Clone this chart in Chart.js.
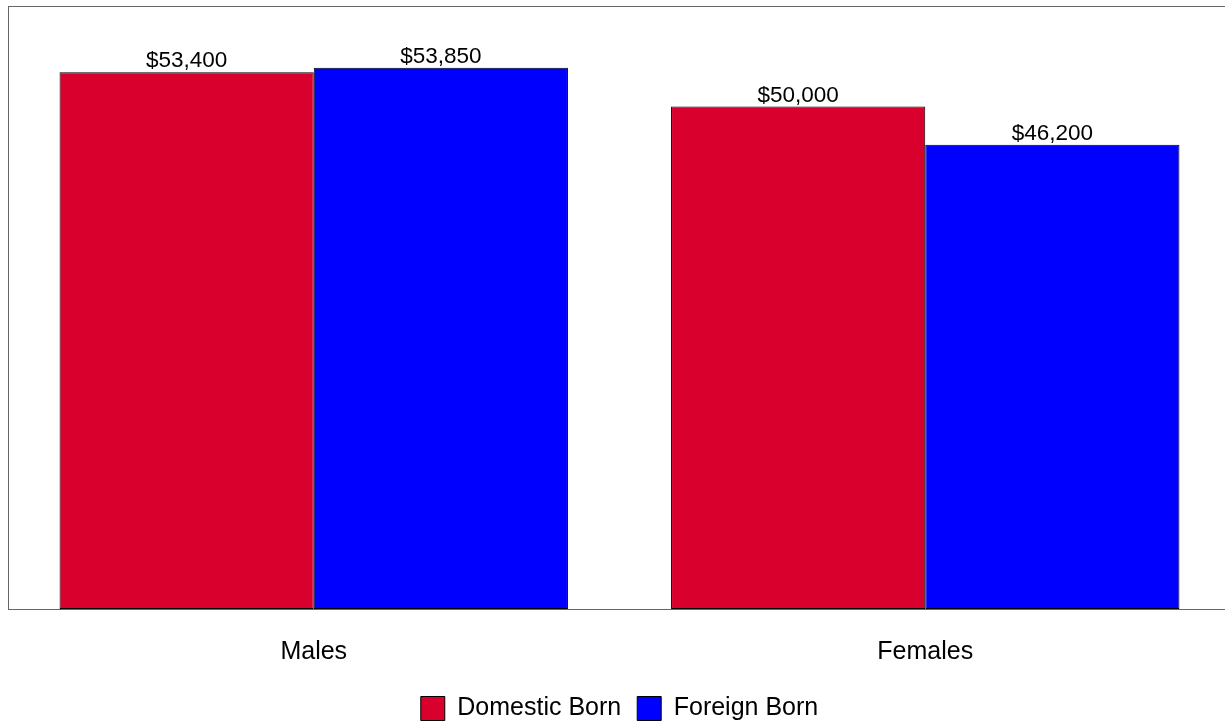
<!DOCTYPE html>
<html>
<head>
<meta charset="utf-8">
<script src="https://cdn.jsdelivr.net/npm/chart.js@4"></script>
<style>
  html, body { margin: 0; padding: 0; background: #fff; overflow: hidden; }
  #wrap { width: 1231px; height: 725px; }
</style>
</head>
<body>
<div id="wrap"><canvas id="myChart"></canvas></div>
<script>
// ....... data ........
const categories = ['Males', 'Females'];
const domesticBorn = [53400, 50000];
const foreignBorn = [53850, 46200];
const seriesNames = ['Domestic Born', 'Foreign Born'];

const police = '"Liberation Sans", Arial, sans-serif';

// ....... frame around the plot .......
const frame = {
    id: 'frame',
    beforeDatasetsDraw(chart) {
        const a = chart.chartArea;
        const c = chart.ctx;
        c.save();
        c.strokeStyle = '#666666';
        c.lineWidth = 1;
        c.strokeRect(Math.round(a.left) + 0.5, Math.round(a.top) + 0.5,
            Math.round(a.right - a.left), Math.round(a.bottom - a.top));
        c.restore();
    }
};

// ....... value labels above bars .......
const valueLabels = {
    id: 'valueLabels',
    afterDatasetsDraw(chart) {
        const c = chart.ctx;
        c.save();
        c.font = '22.5px ' + police;
        c.fillStyle = '#000';
        c.textAlign = 'center';
        c.textBaseline = 'alphabetic';
        chart.data.datasets.forEach((ds, i) => {
            chart.getDatasetMeta(i).data.forEach((bar, j) => {
                c.fillText('$' + ds.data[j].toLocaleString('en-US'), bar.x, bar.y - 5);
            });
        });
        c.restore();
    }
};

const ctx = document.getElementById('myChart').getContext('2d');
const chart = new Chart(ctx, {
    type: 'bar',
    data: {
        labels: categories,
        datasets: [{
            label: seriesNames[0],
            data: domesticBorn,
            backgroundColor: '#D9002E',
            borderColor: '#000000',
            borderWidth: 1,
            borderSkipped: false
        }, {
            label: seriesNames[1],
            data: foreignBorn,
            backgroundColor: '#0000FF',
            borderColor: '#000000',
            borderWidth: 1,
            borderSkipped: false
        }]
    },
    options: {
        responsive: true,
        maintainAspectRatio: false,
        animation: false,
        layout: { padding: { left: 8, top: 6, right: 0, bottom: -6 } },
        datasets: {
            bar: { categoryPercentage: 0.8314, barPercentage: 1 }
        },
        plugins: {
            legend: {
                position: 'bottom',
                labels: {
                    boxWidth: 24,
                    boxHeight: 24,
                    padding: 16,
                    color: '#000',
                    font: { family: police, size: 25 }
                }
            },
            tooltip: { enabled: false }
        },
        scales: {
            x: {
                grid: { display: false },
                border: { display: false },
                ticks: {
                    color: '#000',
                    padding: 20,
                    font: { family: police, size: 25 }
                },
                afterFit: (s) => { s.height = 71; }
            },
            y: {
                display: false,
                min: 0,
                max: 60000
            }
        }
    },
    plugins: [frame, valueLabels]
});
</script>
</body>
</html>
